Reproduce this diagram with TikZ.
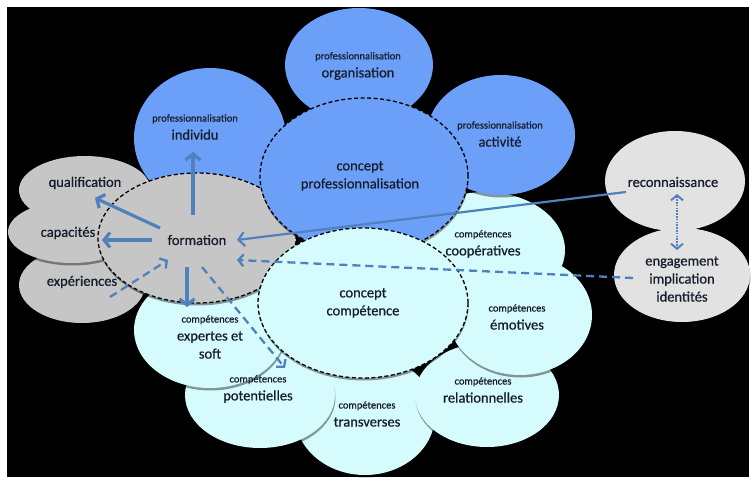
\documentclass[tikz,border=0pt]{standalone}
\usepackage{fontspec}
\setmainfont{Carlito}[FakeBold=0.7]
\usetikzlibrary{arrows.meta,shapes.geometric,shadows,calc}
\definecolor{bluefill}{RGB}{108,160,248}
\definecolor{cyanfill}{RGB}{214,251,253}
\definecolor{grayfill}{RGB}{198,198,198}
\definecolor{lgrayfill}{RGB}{226,226,226}
\definecolor{arrowblue}{RGB}{79,129,189}
\definecolor{txtcol}{RGB}{22,30,46}
\newcommand\lblmain{\fontsize{14.5}{18}\selectfont}
\newcommand\lblsmall{\fontsize{10.5}{13}\selectfont}
\begin{document}
\begin{tikzpicture}[x=1pt,y=-1pt,
  shd/.style={drop shadow={shadow xshift=0.5pt, shadow yshift=-2.5pt, opacity=0.4, fill=black}},
  base/.style={ellipse, inner sep=0pt, draw=none, shd},
  graye/.style={base, fill=grayfill},
  lgraye/.style={base, fill=lgrayfill},
  cyane/.style={base, fill=cyanfill},
  bluee/.style={base, fill=bluefill},
  dashe/.style={draw=black, line width=1.3pt, dash pattern=on 4pt off 2.5pt},
  lbl/.style={text=txtcol, align=center, font=\lblmain, inner sep=0pt},
  arr/.style={draw=arrowblue, line width=3.2pt, -{Straight Barb[length=6pt, width=15pt]}},
  darr/.style={draw=arrowblue, line width=2.3pt, dash pattern=on 8pt off 5pt, -{Straight Barb[length=5pt, width=12pt]}},
  tarr/.style={draw=arrowblue, line width=2.2pt, -{Straight Barb[length=6pt, width=14pt]}},
  dotarr/.style={draw=arrowblue, line width=2pt, dash pattern=on 1.6pt off 1.2pt, {Straight Barb[length=5pt, width=12pt]}-{Straight Barb[length=5pt, width=12pt]}}
]
% page and background
\fill[white] (0,0) rectangle (753,481);
\fill[black] (7,7) rectangle (749,477);
\useasboundingbox (0,0) rectangle (753,481);

% left gray ellipses
\node[graye, minimum width=132pt, minimum height=68pt] (qual) at (85,190) {};
\node[graye, minimum width=126pt, minimum height=76pt] (exper) at (82,285) {};
\node[graye, minimum width=128pt, minimum height=62pt] (capa) at (72,232) {};

% cyan competence ellipses
\node[cyane, minimum width=140pt, minimum height=120pt] (trans) at (365,415) {};
\node[cyane, minimum width=150pt, minimum height=106pt] (pot) at (260,395) {};
\node[cyane, minimum width=144pt, minimum height=104pt] (rel) at (487,395) {};
\node[cyane, minimum width=152pt, minimum height=116pt] (expsoft) at (210,330) {};
\node[cyane, minimum width=160pt, minimum height=116pt] (coop) at (485,250) {};
\node[cyane, minimum width=144pt, minimum height=120pt] (emo) at (520,315) {};

% blue professionnalisation ellipses
\node[bluee, minimum width=148pt, minimum height=114pt] (org) at (359,65) {};
\node[bluee, minimum width=152pt, minimum height=140pt] (ind) at (210,138) {};
\node[bluee, minimum width=148pt, minimum height=120pt] (act) at (501,135) {};

% right gray ellipses
\node[lgraye, minimum width=140pt, minimum height=100pt] (rec) at (675,181) {};
\node[lgraye, minimum width=136pt, minimum height=94pt] (eng) at (682,275) {};

% formation and concepts
\node[graye, dashe, minimum width=198pt, minimum height=130pt] (form) at (197,238) {};
\node[bluee, dashe, minimum width=208pt, minimum height=156pt] (cprof) at (364,176) {};
\node[cyane, dashe, minimum width=210pt, minimum height=150pt] (ccomp) at (363,303) {};

% labels
\node[lbl] (orgtx) at (358,66) {{\lblsmall professionnalisation}\\organisation};
\node[lbl] (indtx) at (195,127) {{\lblsmall professionnalisation}\\individu};
\node[lbl] (acttx) at (500,134) {{\lblsmall professionnalisation}\\activité};
\node[lbl] (cproftx) at (360,176) {concept\\professionnalisation};
\node[lbl] (ccomptx) at (363,303) {concept\\compétence};
\node[lbl] (ftx) at (197,240) {formation};
\node[lbl] (qtx) at (85,183) {qualification};
\node[lbl] (ctx) at (68,233) {capacités};
\node[lbl] (etx) at (82,282) {expériences};
\node[lbl] (rectx) at (673,182) {reconnaissance};
\node[lbl] (engtx) at (682,279) {engagement\\implication\\identités};
\node[lbl] (cooptx) at (483,244) {{\lblsmall compétences}\\coopératives};
\node[lbl] (emotx) at (517,317) {{\lblsmall compétences}\\émotives};
\node[lbl] (reltx) at (483,390) {{\lblsmall compétences}\\relationnelles};
\node[lbl] (transtx) at (367,414) {{\lblsmall compétences}\\transverses};
\node[lbl] (pottx) at (258,389) {{\lblsmall compétences}\\potentielles};
\node[lbl] (exptx) at (210,337) {{\lblsmall compétences}\\expertes et\\soft};

% connectors
\draw[arr] ($(ftx)+(-4,-25)$) -- ($(indtx)+(-2,25)$);
\draw[arr] ($(ftx)+(-37,-12)$) -- ($(qtx)+(10,15)$);
\draw[arr] ($(ftx)+(-45,0)$) -- ($(ctx)+(34,7)$);
\draw[arr] ($(ftx)+(-10,27)$) -- ($(exptx)+(-23,-30)$);
\draw[darr] ($(etx)+(28,15)$) -- ($(ftx)+(-29,20)$);
\draw[darr] ($(ftx)+(5,27)$) -- ($(pottx)+(27,-21)$);
\draw[tarr] ($(rectx)+(-47,10)$) -- ($(ftx)+(40,0)$);
\draw[darr] ($(engtx)+(-49,-1)$) -- ($(ftx)+(40,20)$);
\draw[dotarr] ($(rectx)+(4,12)$) -- ($(engtx)+(-5,-29)$);
\end{tikzpicture}
\end{document}
